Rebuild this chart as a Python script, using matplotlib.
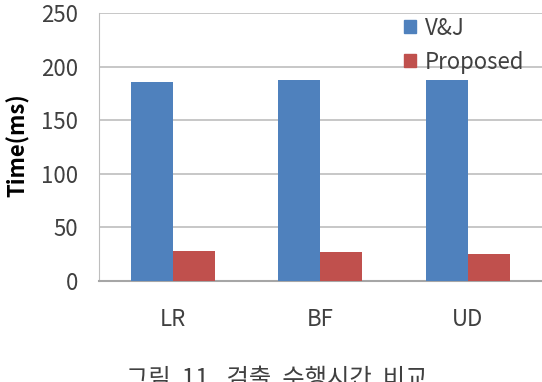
import matplotlib

matplotlib.use("Agg")
import matplotlib.pyplot as plt
import numpy as np
from matplotlib.patches import Patch

plt.rcParams["font.family"] = ["Noto Sans CJK KR", "DejaVu Sans"]

categories = ["LR", "BF", "UD"]
vj_times = [185.5, 187.5, 188.0]
proposed_times = [27.5, 26.5, 24.5]
series_names = ["V&J", "Proposed"]
y_ticks = [0, 50, 100, 150, 200, 250]
caption = "그림  11.  검출  수행시간  비교"

BLUE = "#4F81BD"
RED = "#C0504D"
GRID = "#BEBEBE"
TEXT = "#404040"

W, H = 542, 382
fig = plt.figure(figsize=(W / 100, H / 100), dpi=100)
ax = fig.add_axes([99.3 / W, (H - 280.7) / H, (541.5 - 99.3) / W, (280.7 - 13.3) / H])

x = np.arange(len(categories))
bw = 0.285
ax.bar(x - bw / 2, vj_times, width=bw, color=BLUE, zorder=3)
ax.bar(x + bw / 2, proposed_times, width=bw, color=RED, zorder=3)

ax.set_xlim(-0.5, len(categories) - 0.5)
ax.set_ylim(0, 250)
ax.set_yticks(y_ticks)
ax.set_xticks(x)
ax.set_xticklabels(categories)
ax.tick_params(axis="both", length=0, labelsize=16, colors=TEXT)
ax.tick_params(axis="y", pad=15)
ax.tick_params(axis="x", pad=20)
ax.yaxis.grid(True, color=GRID, linewidth=1.2, zorder=0)

for side in ["top", "right"]:
    ax.spines[side].set_visible(False)
ax.spines["left"].set_color(GRID)
ax.spines["bottom"].set_color("#A6A6A6")
ax.spines["bottom"].set_linewidth(1.5)

fig.text(18 / W, 1 - 145 / H, "Time(ms)", rotation=90, ha="center", va="center",
         fontsize=16, fontweight="bold", color="black")

handles = [Patch(color=BLUE), Patch(color=RED)]
ax.legend(handles, series_names, loc="upper left", bbox_to_anchor=(388 / W, 1 - 1 / H),
          bbox_transform=fig.transFigure, frameon=False, fontsize=16,
          handlelength=0.55, handleheight=0.55, handletextpad=0.4,
          labelspacing=0.5, borderpad=0.2, labelcolor=TEXT)

fig.text(277 / W, 1 - 366 / H, caption, ha="center", va="top", fontsize=17.5, color=TEXT)

fig.savefig("out.png", dpi=100)
